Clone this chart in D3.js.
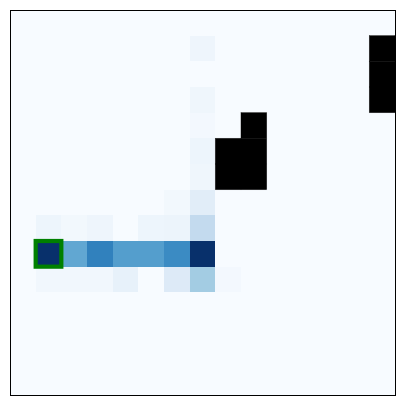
<!DOCTYPE html>
<html>
<head>
<meta charset="utf-8">
<script src="https://cdn.jsdelivr.net/npm/d3@7"></script>
<style>
  html, body { margin: 0; padding: 0; background: #ffffff; }
  svg { display: block; }
</style>
</head>
<body>
<svg id="chart" width="405" height="405"></svg>
<script>
// ---- data ----
const nRows = 15;
const nCols = 15;
// normalized visitation values, row by row (row 0 = top)
const values = [
  [0,0,0,0,0,0,0,0,0,0,0,0,0,0,0],
  [0,0,0,0,0,0,0,0.045,0,0,0,0,0,0,0],
  [0,0,0,0,0,0,0,0,0,0,0,0,0,0,0],
  [0,0,0,0,0,0,0,0.04,0,0,0,0,0,0,0],
  [0,0,0,0,0,0,0,0.02,0,0,0,0,0,0,0],
  [0,0,0,0,0,0,0,0.05,0,0,0,0,0,0,0],
  [0,0,0,0,0,0,0,0.04,0,0,0,0,0,0,0],
  [0,0,0,0,0,0,0.025,0.11,0,0,0,0,0,0,0],
  [0,0.05,0.025,0.045,0,0.05,0.055,0.26,0,0,0,0,0,0,0],
  [0,1.0,0.53,0.69,0.57,0.57,0.65,1.0,0,0,0,0,0,0,0],
  [0,0.03,0.03,0.03,0.08,0,0.13,0.36,0.02,0,0,0,0,0,0],
  [0,0,0,0,0,0,0,0,0,0,0,0,0,0,0],
  [0,0,0,0,0,0,0,0,0,0,0,0,0,0,0],
  [0,0,0,0,0,0,0,0,0,0,0,0,0,0,0],
  [0,0,0,0,0,0,0,0,0,0,0,0,0,0,0]
];
// obstacle cells [row, col]
const obstacles = [[1,14],[2,14],[3,14],[4,9],[5,8],[5,9],[6,8],[6,9]];
// start cell [row, col]
const startCell = [9,1];

// matplotlib "Blues" colormap stops
const bluesStops = ["#f7fbff","#deebf7","#c6dbef","#9ecae1","#6baed6","#4292c6","#2171b5","#08519c","#08306b"];

// ---- layout ----
const margin = {left: 10, top: 10, right: 10, bottom: 10};
const W = 405, H = 405;
const iw = W - margin.left - margin.right;
const ih = H - margin.top - margin.bottom;

const svg = d3.select("#chart");
const g = svg.append("g").attr("transform", `translate(${margin.left},${margin.top})`);

const x = d3.scaleBand().domain(d3.range(nCols)).range([0, iw]).padding(0);
const y = d3.scaleBand().domain(d3.range(nRows)).range([0, ih]).padding(0);
const color = d3.scaleLinear()
  .domain(bluesStops.map((_, i) => i / (bluesStops.length - 1)))
  .range(bluesStops)
  .interpolate(d3.interpolateRgb)
  .clamp(true);

const cells = [];
values.forEach((row, r) => row.forEach((v, c) => cells.push({r, c, v})));

g.append("g").selectAll("rect")
  .data(cells)
  .join("rect")
  .attr("x", d => x(d.c))
  .attr("y", d => y(d.r))
  .attr("width", x.bandwidth() + 0.3)
  .attr("height", y.bandwidth() + 0.3)
  .attr("fill", d => color(d.v))
  .attr("shape-rendering", "crispEdges");

const obs = g.append("g");
// faint outline around obstacles
obs.selectAll("rect.edge")
  .data(obstacles)
  .join("rect")
  .attr("class", "edge")
  .attr("x", d => x(d[1]))
  .attr("y", d => y(d[0]))
  .attr("width", x.bandwidth())
  .attr("height", y.bandwidth())
  .attr("fill", "none")
  .attr("stroke", "#c8c8c8")
  .attr("stroke-width", 0.8);
obs.selectAll("rect.fill")
  .data(obstacles)
  .join("rect")
  .attr("class", "fill")
  .attr("x", d => x(d[1]))
  .attr("y", d => y(d[0]))
  .attr("width", x.bandwidth())
  .attr("height", y.bandwidth())
  .attr("fill", "#000000")
  .attr("stroke", "#000000")
  .attr("stroke-width", 0.3);

g.append("rect")
  .attr("x", x(startCell[1]))
  .attr("y", y(startCell[0]))
  .attr("width", x.bandwidth())
  .attr("height", y.bandwidth())
  .attr("fill", "none")
  .attr("stroke", "#008000")
  .attr("stroke-width", 4.2);

// axes frame (no ticks)
svg.append("rect")
  .attr("x", 10.5).attr("y", 10.5)
  .attr("width", 385).attr("height", 385)
  .attr("fill", "none")
  .attr("stroke", "#000000")
  .attr("stroke-width", 1);
</script>
</body>
</html>
